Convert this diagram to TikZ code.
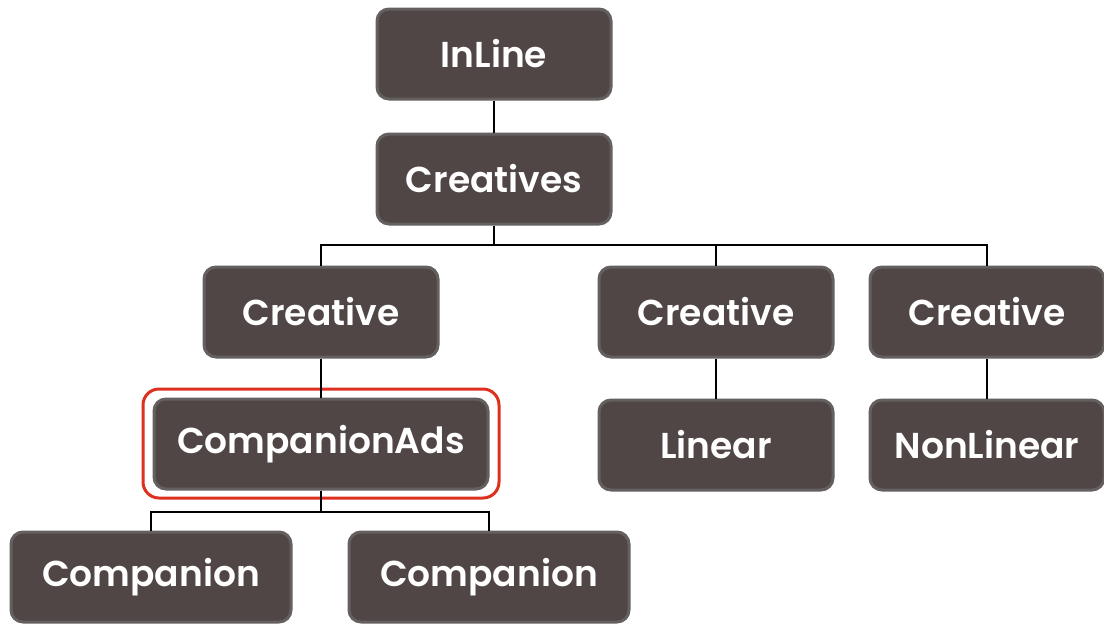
\documentclass[tikz,border=0pt]{standalone}
\usepackage{fontspec}
\setmainfont{Poppins}[UprightFont={* SemiBold}]
\definecolor{boxbrown}{RGB}{80,70,70}
\definecolor{boxedge}{RGB}{100,96,96}
\definecolor{markred}{RGB}{222,48,30}

\tikzset{
  elem/.style={draw=boxedge,line width=1.5pt,fill=boxbrown,rounded corners=6pt,
    minimum width=117pt,minimum height=45pt,text=white,
    font=\fontsize{18}{22}\selectfont},
  wide/.style={elem,minimum width=167pt},
  link/.style={line width=0.8pt}
}

\begin{document}
\begin{tikzpicture}[x=0.5pt,y=-0.5pt]
    \useasboundingbox (0,0) rectangle (1104,623);
    \node[elem] (inline) at (494,54) {InLine};
    \node[elem] (creatives) at (494,179) {Creatives};
    \node[elem] (creativeA) at (321,312) {Creative};
    \node[elem] (creativeB) at (716,312) {Creative};
    \node[elem] (creativeC) at (987,312) {Creative};
    \node[wide] (compads) at (321,444) {CompanionAds};
    \node[elem] (linear) at (716,445) {Linear};
    \node[elem] (nonlinear) at (987,445) {NonLinear};
    \node[elem,minimum width=140pt] (compA) at (151,577) {Companion};
    \node[elem,minimum width=140pt] (compB) at (489,577) {Companion};
    % highlight round CompanionAds
    \draw[markred,line width=1.5pt,rounded corners=8pt]
      (143,389) rectangle (499,498);
    \coordinate (split) at (494,245);
    \coordinate (splitads) at (321,512);
    \draw[link] (inline)--(creatives);
    \draw[link] (creatives)--(split);
    \draw[link] (creativeA.north) |- (split) -| (creativeC.north);
    \draw[link] (split) -| (creativeB.north);
    \draw[link] (creativeA)--(compads);
    \draw[link] (creativeB)--(linear);
    \draw[link] (creativeC)--(nonlinear);
    \draw[link] (compads)--(splitads);
    \draw[link] (compA.north) |- (splitads) -| (compB.north);
  \end{tikzpicture}
\end{document}
